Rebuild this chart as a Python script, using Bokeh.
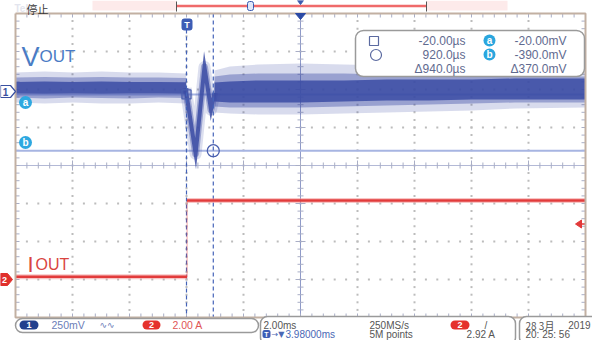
from bokeh.plotting import figure
from bokeh.models import Range1d, BoxAnnotation, Label
from bokeh.embed import file_html
from bokeh.resources import INLINE

# ---------------- scope settings / data ----------------
TIME_PER_DIV_MS = 2.0
H_POSITION_MS = 3.98
CH1_MV_PER_DIV = 250.0
CH2_A_PER_DIV = 2.0
CH1_OFFSET_DIV = 1.95
CH2_OFFSET_DIV = -3.0
TRIGGER_LEVEL_A = 2.92

# Vout noise band before the load step (time ms, envelope mV)
vout_pre_t = [-6.02, -5.0, -4.0, -3.0, -2.0, -1.0, -0.03]
vout_pre_outer_hi = [124, 131, 124, 131, 124, 124, 118]
vout_pre_outer_lo = [-73, -80, -73, -80, -80, -73, -80]
vout_pre_mid_hi = [92, 95, 92, 95, 92, 92, 88]
vout_pre_mid_lo = [-40, -46, -40, -43, -46, -40, -43]
vout_pre_core_hi = [62, 65, 62, 65, 62, 62, 60]
vout_pre_core_lo = [-14, -16, -14, -16, -14, -14, -16]

# Vout transient at the load step
vout_step_t = [-0.05, 0.30, 0.61, 0.84, 0.96]
vout_step_mv = [20, -410, 160, -120, -10]

# Vout noise band after the load step
vout_post_t = [0.96, 1.5, 2.5, 4.0, 5.5, 7.0, 8.5, 10.0, 11.5, 13.98]
vout_post_outer_hi = [138, 164, 177, 184, 177, 170, 157, 144, 131, 124]
vout_post_outer_lo = [-139, -145, -152, -152, -145, -139, -132, -126, -112, -106]
vout_post_mid_hi = [98, 111, 118, 118, 118, 111, 105, 105, 98, 98]
vout_post_mid_lo = [-99, -106, -106, -106, -99, -93, -86, -80, -73, -73]
vout_post_core_hi = [59, 65, 72, 72, 72, 78, 78, 78, 85, 85]
vout_post_core_lo = [-66, -73, -73, -73, -66, -60, -60, -53, -53, -53]

# Iout step
iout_t = [-6.02, 0.0, 0.0, 13.98]
iout_a = [0.14, 0.14, 4.16, 4.16]

# cursors
cursor_t_ms = [-0.020, 0.920]
cursor_v_mv = [-20.0, -390.0]
readout_time = ["-20.00µs", "920.0µs", "Δ940.0µs"]
readout_volt = ["-20.00mV", "-390.0mV", "Δ370.0mV"]

# ---------------- helpers ----------------
def X(px):
    return H_POSITION_MS + (px - 308) / 57.0 * TIME_PER_DIV_MS

def Y(py):
    return (173 - py) / 38.0

def dx(px):
    return px / 57.0 * TIME_PER_DIV_MS

def dy(py):
    return py / 38.0

def v2d(mv):
    return CH1_OFFSET_DIV + mv / CH1_MV_PER_DIV

def i2d(a):
    return CH2_OFFSET_DIV + a / CH2_A_PER_DIV

GX0 = H_POSITION_MS - 5 * TIME_PER_DIV_MS
GX1 = H_POSITION_MS + 5 * TIME_PER_DIV_MS

p = figure(width=592, height=340, x_range=Range1d(X(8), X(600)),
           y_range=Range1d(Y(348), Y(8)), x_axis_type=None, y_axis_type=None,
           output_backend="svg", toolbar_location=None, min_border=0,
           outline_line_color=None)

def lab(px, py, text, size=11, color="#555555", align="left", font="Liberation Sans",
        baseline="middle", style="normal"):
    p.add_layout(Label(x=X(px), y=Y(py), text=text, text_font_size=f"{size}px",
                       text_color=color, text_align=align, text_baseline=baseline,
                       text_font=font, text_font_style=style))

def rbox(x0, y0, x1, y1, fill="white", line="#9a9a9a", r=6, lw=1.0):
    p.add_layout(BoxAnnotation(left=X(x0), right=X(x1), top=Y(y0), bottom=Y(y1),
                               fill_color=fill, fill_alpha=1.0 if fill else 0.0,
                               line_color=line, line_width=lw, line_alpha=1.0,
                               border_radius=r))

# ---------------- graticule ----------------
gx, gy = [], []
for k in range(1, 10):
    if k == 5:
        continue
    xm = GX0 + k * TIME_PER_DIV_MS
    for j in range(1, 40):
        gx.append(xm); gy.append(-4 + 0.2 * j)
for k in range(-3, 4):
    if k == 0:
        continue
    for j in range(1, 50):
        gx.append(GX0 + 0.4 * j); gy.append(k)
p.scatter(gx, gy, marker="square", size=2, fill_color="#bcbcbc", line_color=None)

p.line([GX0, GX1], [0, 0], line_color="#b3b9d6", line_width=1)
p.line([H_POSITION_MS, H_POSITION_MS], [-4, 4], line_color="#8f9ac8", line_width=1)

sx0, sy0, sx1, sy1 = [], [], [], []
for j in range(1, 50):
    x = GX0 + 0.4 * j
    L = dy(5) if j % 5 == 0 else dy(3)
    sx0.append(x); sy0.append(-L); sx1.append(x); sy1.append(L)
    sx0.append(x); sy0.append(4); sx1.append(x); sy1.append(4 - dy(4))
    sx0.append(x); sy0.append(-4); sx1.append(x); sy1.append(-4 + dy(4))
for j in range(1, 40):
    y = -4 + 0.2 * j
    L = dx(5) if j % 5 == 0 else dx(3)
    sx0.append(H_POSITION_MS - L); sy0.append(y); sx1.append(H_POSITION_MS + L); sy1.append(y)
    sx0.append(GX0); sy0.append(y); sx1.append(GX0 + dx(4)); sy1.append(y)
    sx0.append(GX1); sy0.append(y); sx1.append(GX1 - dx(4)); sy1.append(y)
p.segment(sx0, sy0, sx1, sy1, line_color="#a9aec6", line_width=1)

# horizontal cursor lines (a, b)
for v in cursor_v_mv:
    p.line([GX0, GX1], [v2d(v), v2d(v)], line_color="#a7b5e2", line_width=2)

# ---------------- Vout ----------------
BAND = "#3b4ca5"
def band(t, lo, hi, a):
    p.varea(x=t, y1=[v2d(v) for v in lo], y2=[v2d(v) for v in hi],
            fill_color=BAND, fill_alpha=a)

band(vout_pre_t, vout_pre_outer_lo, vout_pre_outer_hi, 0.2)
band(vout_pre_t, vout_pre_mid_lo, vout_pre_mid_hi, 0.4)
band(vout_pre_t, vout_pre_core_lo, vout_pre_core_hi, 0.85)
band(vout_post_t, vout_post_outer_lo, vout_post_outer_hi, 0.2)
band(vout_post_t, vout_post_mid_lo, vout_post_mid_hi, 0.4)
band(vout_post_t, vout_post_core_lo, vout_post_core_hi, 0.85)

step_y = [v2d(v) for v in vout_step_mv]
p.line(vout_step_t, step_y, line_color=BAND, line_width=12, line_alpha=0.18, line_join="round")
p.line(vout_step_t, step_y, line_color=BAND, line_width=7, line_alpha=0.4, line_join="round")
p.line(vout_step_t, step_y, line_color=BAND, line_width=4, line_alpha=0.85, line_join="miter")

# vertical cursor lines
p.line([cursor_t_ms[0]] * 2, [Y(37), -4], line_color="#4463b8", line_width=1.2, line_dash="4 3")
p.line([cursor_t_ms[1]] * 2, [4, -4], line_color="#4463b8", line_width=1.2, line_dash="4 3")
p.scatter([cursor_t_ms[0]], [v2d(cursor_v_mv[0])], marker="square", size=9,
          fill_color=None, line_color="#4a5fae", line_width=1.3)
p.scatter([cursor_t_ms[1]], [v2d(cursor_v_mv[1])], marker="circle", size=12,
          fill_color=None, line_color="#4a5fae", line_width=1.3)

# ---------------- Iout ----------------
iy = [i2d(a) for a in iout_a]
p.line(iout_t, iy, line_color="#e84545", line_width=1, line_alpha=0.5)
p.line(iout_t[:2], iy[:2], line_color="#f28b8b", line_width=5, line_alpha=0.5)
p.line(iout_t[2:], iy[2:], line_color="#f28b8b", line_width=5, line_alpha=0.5)
p.line(iout_t[:2], iy[:2], line_color="#e23b3b", line_width=2.5)
p.line(iout_t[2:], iy[2:], line_color="#e23b3b", line_width=2.5)

# trigger level arrow (right)
yT = i2d(TRIGGER_LEVEL_A)
p.patch([GX1 - dx(10), GX1 - dx(4), GX1 - dx(4)], [yT, yT + dy(4), yT - dy(4)],
        fill_color="#e23a3a", line_color="#e23a3a")
p.line([GX1 - dx(5), GX1], [yT, yT], line_color="#e23a3a", line_width=1.5)

# border
p.line([GX0, GX1, GX1, GX0, GX0], [4, 4, -4, -4, 4], line_color="#c2b0a2", line_width=2)

# expansion point triangle
p.patch([X(303), X(313), X(308)], [Y(21), Y(21), Y(27)], fill_color="#2b4aa5", line_color="#2b4aa5")

# channel markers on left
p.patch([X(8), X(18), X(23), X(18), X(8)], [Y(93), Y(93), Y(99), Y(105), Y(105)],
        fill_color="white", line_color="#3a50a0", line_width=1.2)
p.patch([X(8), X(15), X(20), X(15), X(8)], [Y(281), Y(281), Y(287), Y(293), Y(293)],
        fill_color="#e0302c", line_color="#e0302c")
p.scatter([X(33), X(33)], [Y(110), Y(150)], marker="circle", size=13,
          fill_color="#2ea8e0", line_color=None)

# ---------------- top bar ----------------
p.quad(left=[X(100), X(434)], right=[X(184), X(515)], top=[Y(8), Y(8)],
       bottom=[Y(18), Y(18)], fill_color="#fdeaea", line_color=None)
p.line([X(184), X(434)], [Y(13.5), Y(13.5)], line_color="#ef6a6a", line_width=2.5)
p.segment([X(184), X(434)], [Y(9), Y(9)], [X(184), X(434)], [Y(19), Y(19)],
          line_color="#555555", line_width=1)
p.patch([X(305), X(311), X(308)], [Y(8), Y(8), Y(12)], fill_color="#3a5ab0", line_color="#3a5ab0")

# ---------------- annotations ----------------
rbox(255, 9, 261, 18, fill="#dfe7f8", line="#3a5ab0", r=2, lw=1)
lab(22, 16, "Tek", 10, "#e3e5ee", style="bold")
lab(34, 16, "停止", 11, "#3a3a3a", font="Noto Sans CJK SC")

# trigger badge
rbox(189, 26, 200, 38, fill="#3d5db5", line=None, r=3)
lab(194.5, 32, "T", 9, "white", align="center", style="bold")

# labels on traces
lab(13, 99, "1", 10, "#3a50a0", align="center", style="bold")
lab(12, 287, "2", 9, "white", align="center", style="bold")
lab(33, 110, "a", 10, "white", align="center", style="bold")
lab(33, 150, "b", 10, "white", align="center", style="bold")
lab(29, 64, "V", 27, "#4a7cc5", baseline="alphabetic")
lab(47, 64, "OUT", 17, "#4a7cc5", baseline="alphabetic")
lab(35, 272, "I", 22, "#d9453f", baseline="alphabetic")
lab(43, 272, "OUT", 16, "#d9453f", baseline="alphabetic")

# cursor readout box
rbox(363, 38, 592, 84, fill="white", line="#9a9a9a", r=8, lw=1.5)
rbox(377, 44, 386, 53, fill=None, line="#5b6aa0", r=0, lw=1.2)
rbox(378, 57, 389, 68, fill=None, line="#5b6aa0", r=6, lw=1.2)
rbox(491, 42, 503, 54, fill="#2aa6de", line=None, r=6)
rbox(491, 56, 503, 68, fill="#2aa6de", line=None, r=6)
lab(497, 48, "a", 10, "white", align="center", style="bold")
lab(497, 62, "b", 10, "white", align="center", style="bold")
for k in range(3):
    lab(473, 48 + 14 * k, readout_time[k], 12, "#5f6a8f", align="right")
    lab(574, 48 + 14 * k, readout_volt[k], 12, "#5f6a8f", align="right")

# ---------------- bottom info bar ----------------
R1, R2 = 332.5, 341.5
rbox(23, 326, 266, 340, fill="white", line="#9a9a9a", r=7, lw=1.5)
rbox(27, 328, 46, 337, fill="#23408e", line=None, r=5)
lab(36.5, R1, "1", 9, "white", align="center", style="bold")
lab(59, R1, "250mV", 10.5, "#6b7db8")
lab(107, R1, "∿∿", 9, "#6b7db8", font="DejaVu Sans")
rbox(150, 328, 168, 337, fill="#e5322d", line=None, r=5)
lab(159, R1, "2", 9, "white", align="center", style="bold")
lab(180, R1, "2.00 A", 10.5, "#e05555")

rbox(268, 324, 523, 352, fill="white", line="#9a9a9a", r=7, lw=1.5)
lab(271, R1, "2.00ms", 10, "#555555")
rbox(270, 337.5, 278, 345.5, fill="#3d5db5", line=None, r=2)
lab(274, R2, "T", 7, "white", align="center", style="bold")
lab(279, R2, "→▼", 8, "#4a68b5", font="DejaVu Sans")
lab(293, R2, "3.98000ms", 10, "#4a68b5")
lab(377, R1, "250MS/s", 10, "#555555")
lab(377, R2, "5M points", 10, "#555555")
rbox(458, 328, 477, 337, fill="#e5322d", line=None, r=5)
lab(467.5, R1, "2", 9, "white", align="center", style="bold")
lab(492, R1, "/", 10, "#555555")
lab(503, R2, "2.92 A", 10, "#555555", align="right")

rbox(527, 324, 612, 352, fill="white", line="#9a9a9a", r=7, lw=1.5)
lab(533, R1, "28 3月", 10, "#555555", font="Noto Sans CJK JP")
lab(598, R1, "2019", 10, "#555555", align="right")
lab(533, R2, "20: 25: 56", 10, "#555555")

open("out.html", "w").write(file_html(p, INLINE))
